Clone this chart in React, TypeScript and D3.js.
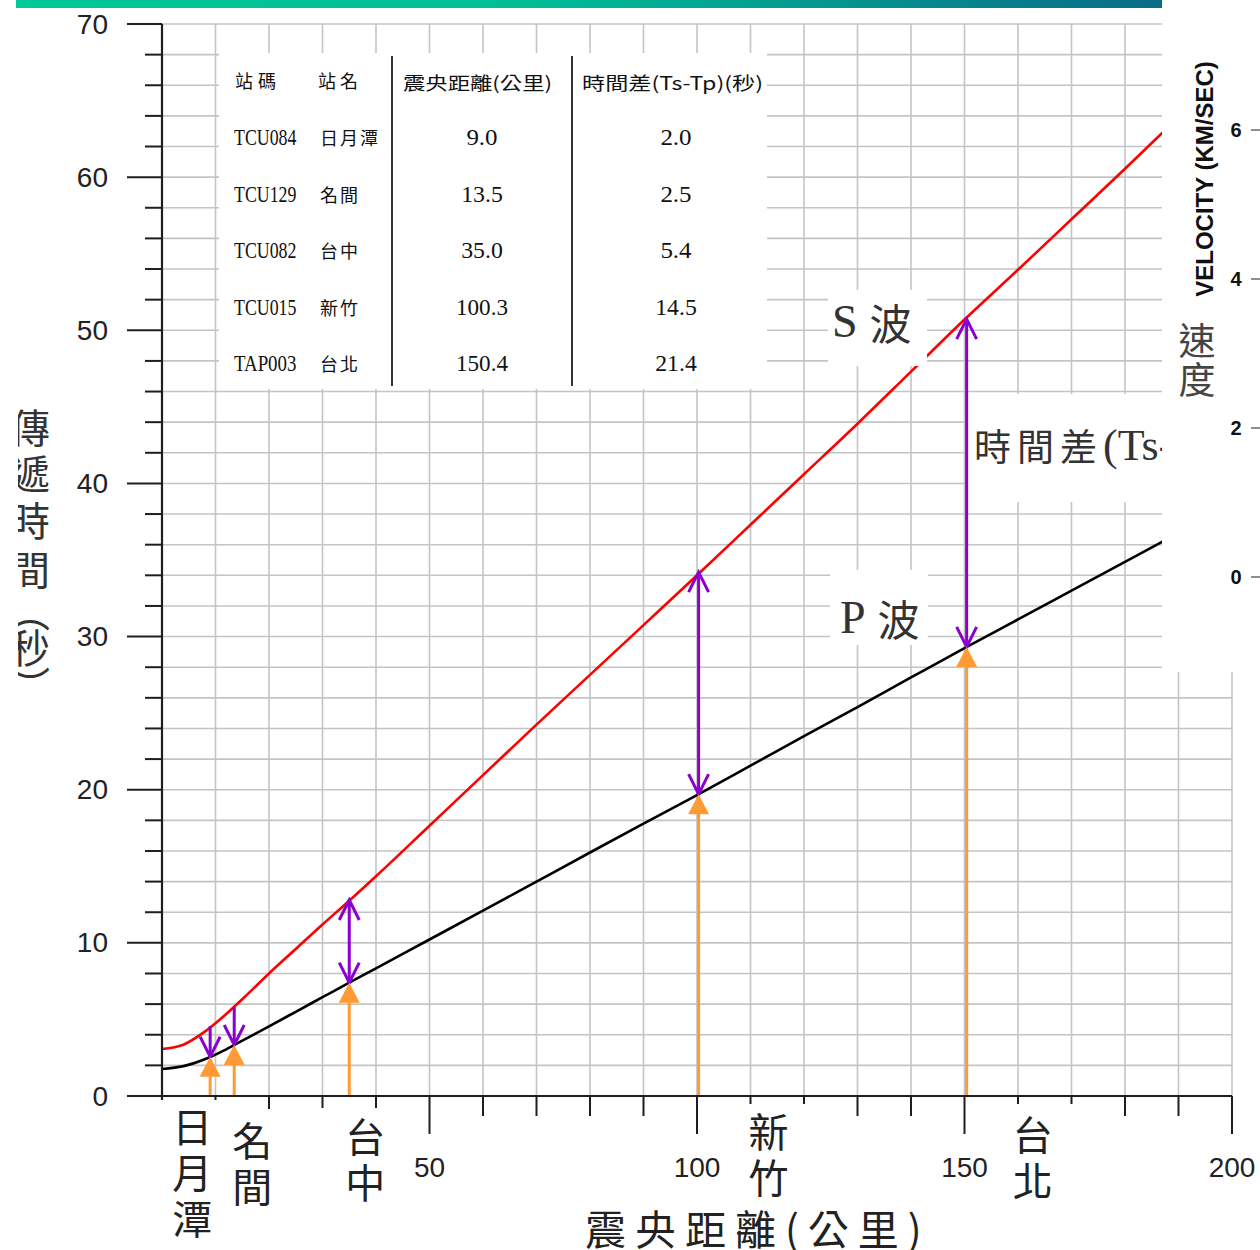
import React from 'react';
import * as d3 from 'd3';

// ---- data ----
const distanceKm = [0, 4, 8, 12, 16, 20, 25, 30, 35, 40, 50, 60, 70, 80, 90, 100, 110, 120, 130, 140, 150, 160, 170, 180, 187];
const pWaveSec = [1.76, 1.95, 2.4, 3.05, 3.8, 4.55, 5.5, 6.45, 7.4, 8.34, 10.22, 12.1, 14.0, 15.9, 17.78, 19.65, 21.57, 23.5, 25.4, 27.33, 29.25, 31.12, 33.0, 34.88, 36.2];
const sWaveSec = [3.07, 3.35, 4.2, 5.35, 6.65, 8.0, 9.6, 11.2, 12.75, 14.35, 17.65, 20.95, 24.25, 27.5, 30.75, 34.0, 37.3, 40.6, 43.9, 47.3, 50.7, 53.95, 57.25, 60.55, 62.9];

const stationCodes = ['TCU084', 'TCU129', 'TCU082', 'TCU015', 'TAP003'];
const stationNames = ['日月潭', '名間', '台中', '新竹', '台北'];
const stationDistKm = [9.0, 13.5, 35.0, 100.3, 150.4];
const stationDiffSec = [2.0, 2.5, 5.4, 14.5, 21.4];
const stationDistLabels = ['9.0', '13.5', '35.0', '100.3', '150.4'];
const stationDiffLabels = ['2.0', '2.5', '5.4', '14.5', '21.4'];

const tableHeaders = ['站碼', '站名', '震央距離(公里)', '時間差(Ts-Tp)(秒)'];
const yMajorTicks = [0, 10, 20, 30, 40, 50, 60, 70];
const xLabelTicks = [50, 100, 150, 200];
const velocityTicks = [0, 2, 4, 6];
const yAxisTitle = ['傳', '遞', '時', '間', '︵', '秒', '︶'];
const xAxisTitle = '震央距離(公里)';
const velocityTitle = 'VELOCITY (KM/SEC)';
const velocityTitleZh = ['速', '度'];

// ---- layout (not data) ----
const SANS = "'Liberation Sans', Arial, sans-serif";
const CJK = "'Noto Sans CJK TC', 'Noto Sans CJK SC', sans-serif";
const SERIF = "'Liberation Serif', 'Noto Sans CJK TC', serif";
const stationLabelDx = [-18, 18, 16, 70, 66];
const stationLabelTop = [1125, 1139, 1135, 1130, 1133];
const stationLabelBox = [
  [170, 222, 1100],
  [226, 275, 1109],
  [316, 384, 1108],
  [743, 810, 1104],
  [1010, 1077, 1104],
];
const yTitleY = [426, 472, 519, 568, 610, 646, 684];

export default function App() {
  const W = 1260, H = 1250;
  const x = d3.scaleLinear().domain([0, 200]).range([162, 1232]);
  const y = d3.scaleLinear().domain([0, 70]).range([1096, 24]);
  const vel = d3.scaleLinear().domain([0, 6]).range([577, 130]);
  const pAt = d3.scaleLinear().domain(distanceKm).range(pWaveSec);

  const line = (vals: number[]) =>
    d3.line<number>()
      .x((_, i) => x(distanceKm[i]))
      .y((d) => y(d))
      .curve(d3.curveMonotoneX)(vals) as string;

  const gridH = d3.range(2, 71, 2);
  const gridV = d3.range(10, 201, 10);
  const minorY = d3.range(0, 71, 2).filter((t) => t % 10 !== 0);
  const xTicks = d3.range(10, 201, 10);

  const grid = '#c4c4c4';
  const axis = '#1e1e1e';
  const orange = '#ff9a35';
  const purple = '#8a00cf';

  const rowY = (i: number) => 137 + i * 56.5;
  const mono = (s: string) => s.length * 10.4;

  return (
    <svg width={W} height={H} viewBox={`0 0 ${W} ${H}`} style={{ position: 'absolute', left: 0, top: 0, background: '#fff' }}>
      <defs>
        <linearGradient id="topbar" x1="0" x2="1" y1="0" y2="0">
          <stop offset="0%" stopColor="#00c896" />
          <stop offset="45%" stopColor="#00bd96" />
          <stop offset="100%" stopColor="#0a6a88" />
        </linearGradient>
      </defs>
      <rect x={0} y={0} width={W} height={H} fill="#fff" />

      {/* grid */}
      {gridH.map((t) => (
        <line key={'gh' + t} x1={x(0)} x2={x(200)} y1={y(t)} y2={y(t)} stroke={grid} strokeWidth={1.6} />
      ))}
      {gridV.map((d) => (
        <line key={'gv' + d} x1={x(d)} x2={x(d)} y1={y(0)} y2={y(70)} stroke={grid} strokeWidth={1.6} />
      ))}

      {/* curves */}
      <path d={line(sWaveSec)} fill="none" stroke="#ff0000" strokeWidth={2.6} />
      <path d={line(pWaveSec)} fill="none" stroke="#000" strokeWidth={2.6} />

      {/* white label boxes */}
      <rect x={219} y={53} width={548} height={336} fill="#fff" />
      <rect x={828} y={290} width={99} height={76} fill="#fff" />
      <rect x={830} y={570} width={98} height={75} fill="#fff" />
      <rect x={968} y={394} width={200} height={108} fill="#fff" />

      {/* table */}
      <line x1={392} x2={392} y1={56} y2={386} stroke="#333" strokeWidth={2} />
      <line x1={572} x2={572} y1={56} y2={386} stroke="#333" strokeWidth={2} />
      <g fontFamily={CJK} fontSize={18} fill="#111" dominantBaseline="central">
        <text x={235} y={80} letterSpacing={5}>{tableHeaders[0]}</text>
        <text x={318} y={80} letterSpacing={4}>{tableHeaders[1]}</text>
        <text x={403} y={82} textLength={149} lengthAdjust="spacingAndGlyphs">{tableHeaders[2]}</text>
        <text x={582} y={82} textLength={181} lengthAdjust="spacingAndGlyphs">{tableHeaders[3]}</text>
      </g>
      {stationCodes.map((c, i) => (
        <g key={'row' + i} dominantBaseline="central" fill="#111">
          <text x={234} y={rowY(i)} fontFamily={SERIF} fontSize={24} textLength={mono(c)} lengthAdjust="spacingAndGlyphs">{c}</text>
          <text x={320} y={rowY(i)} fontFamily={CJK} fontSize={18} letterSpacing={2}>{stationNames[i]}</text>
          <text x={482 - mono(stationDistLabels[i]) / 2} y={rowY(i)} fontFamily={SERIF} fontSize={24} textLength={mono(stationDistLabels[i])} lengthAdjust="spacingAndGlyphs">{stationDistLabels[i]}</text>
          <text x={676 - mono(stationDiffLabels[i]) / 2} y={rowY(i)} fontFamily={SERIF} fontSize={24} textLength={mono(stationDiffLabels[i])} lengthAdjust="spacingAndGlyphs">{stationDiffLabels[i]}</text>
        </g>
      ))}

      {/* wave labels */}
      <text x={832} y={321} dominantBaseline="central" fontSize={46} fill="#333">
        <tspan fontFamily={SERIF}>S</tspan>
        <tspan fontFamily={CJK} dx={12} fontSize={42}>波</tspan>
      </text>
      <text x={840} y={617} dominantBaseline="central" fontSize={46} fill="#333">
        <tspan fontFamily={SERIF}>P</tspan>
        <tspan fontFamily={CJK} dx={12} fontSize={42}>波</tspan>
      </text>
      <text x={974} y={445} dominantBaseline="central" fill="#333">
        <tspan fontFamily={CJK} fontSize={37} letterSpacing={6}>時間差</tspan>
        <tspan fontFamily={SERIF} fontSize={44}>(Ts-Tp)</tspan>
      </text>

      {/* arrows */}
      {stationDistKm.map((d, i) => {
        const px = x(d);
        const py = y(pAt(d));
        const sy = y(pAt(d) + stationDiffSec[i]);
        const dbl = stationDiffSec[i] >= 5;
        return (
          <g key={'arr' + i}>
            <line x1={px} x2={px} y1={sy} y2={py} stroke={purple} strokeWidth={3} />
            <path d={`M${px - 10},${py - 20} L${px},${py} L${px + 10},${py - 20}`} fill="none" stroke={purple} strokeWidth={3} />
            {dbl && (
              <path d={`M${px - 10},${sy + 20} L${px},${sy} L${px + 10},${sy + 20}`} fill="none" stroke={purple} strokeWidth={3} />
            )}
            <line x1={px} x2={px} y1={y(0)} y2={py + 18} stroke={orange} strokeWidth={3} />
            <path d={`M${px},${py} L${px - 10.5},${py + 20} L${px + 10.5},${py + 20} Z`} fill={orange} />
          </g>
        );
      })}

      {/* axes */}
      {minorY.map((t) => (
        <line key={'my' + t} x1={145} x2={162} y1={y(t)} y2={y(t)} stroke={axis} strokeWidth={2} />
      ))}
      {yMajorTicks.map((t) => (
        <line key={'My' + t} x1={127} x2={162} y1={y(t)} y2={y(t)} stroke={axis} strokeWidth={2} />
      ))}
      {xTicks.map((d) => (
        <line key={'xt' + d} x1={x(d)} x2={x(d)} y1={y(0)} y2={y(0) + (d % 50 === 0 ? 38 : 20)} stroke={axis} strokeWidth={2} />
      ))}
      <line x1={162} x2={162} y1={y(70)} y2={1100} stroke={axis} strokeWidth={2.2} />
      <line x1={127} x2={x(200)} y1={y(0)} y2={y(0)} stroke={axis} strokeWidth={2.2} />

      {/* y tick labels */}
      <g fontFamily={SANS} fontSize={28} fill="#222" textAnchor="end" dominantBaseline="central">
        {yMajorTicks.map((t) => (
          <text key={'yl' + t} x={108} y={y(t)}>{t}</text>
        ))}
      </g>

      {/* station label boxes + labels */}
      {stationLabelBox.map((b, i) => (
        <rect key={'sb' + i} x={b[0]} y={b[2]} width={b[1] - b[0]} height={130} fill="#fff" />
      ))}
      <g fontFamily={SANS} fontSize={28} fill="#222" textAnchor="middle" dominantBaseline="central">
        {xLabelTicks.map((d) => (
          <text key={'xl' + d} x={x(d)} y={1167}>{d}</text>
        ))}
      </g>
      <g fontFamily={CJK} fontSize={40} fill="#222" textAnchor="middle" dominantBaseline="central">
        {stationNames.map((n, i) =>
          Array.from(n).map((ch, j) => (
            <text key={'sn' + i + j} x={x(stationDistKm[i]) + stationLabelDx[i]} y={stationLabelTop[i] + j * 46}>{ch}</text>
          ))
        )}
      </g>
      <text x={585} y={1227} dominantBaseline="central" fontFamily={CJK} fontSize={41} fill="#222" letterSpacing={9}>{xAxisTitle}</text>

      {/* left y title (clipped at the left edge) */}
      <g fontFamily={CJK} fontSize={40} fill="#333" textAnchor="middle" dominantBaseline="central">
        {yAxisTitle.map((ch, i) => (
          <text key={'yt' + i} x={30} y={yTitleY[i]}>{ch}</text>
        ))}
      </g>
      <rect x={0} y={380} width={18} height={340} fill="#fff" />

      {/* right velocity panel */}
      <rect x={1162} y={0} width={98} height={672} fill="#fff" />
      <text transform={`translate(1213,179) rotate(-90)`} textAnchor="middle" fontFamily={SANS} fontWeight="bold" fontSize={24} fill="#111">{velocityTitle}</text>
      <g fontFamily={CJK} fontSize={37} fill="#444" textAnchor="middle" dominantBaseline="central">
        {velocityTitleZh.map((ch, i) => (
          <text key={'vz' + i} x={1197} y={339 + i * 39}>{ch}</text>
        ))}
      </g>
      {velocityTicks.map((t) => (
        <g key={'vt' + t}>
          <text x={1236} y={vel(t)} textAnchor="middle" dominantBaseline="central" fontFamily={SANS} fontWeight="bold" fontSize={20} fill="#111">{t}</text>
          <line x1={1251} x2={1260} y1={vel(t)} y2={vel(t)} stroke="#444" strokeWidth={1.2} />
        </g>
      ))}

      {/* top bar */}
      <rect x={16} y={0} width={1146} height={8} fill="url(#topbar)" />
    </svg>
  );
}
